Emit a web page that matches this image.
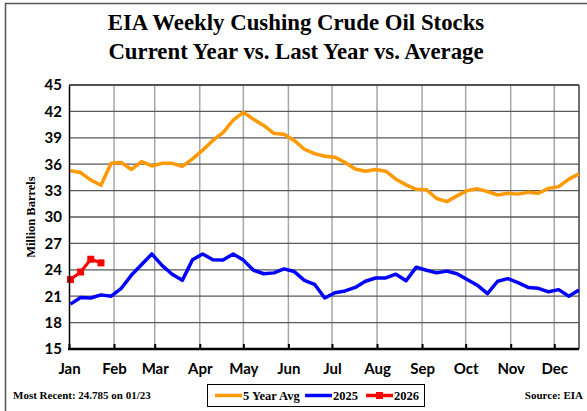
<!DOCTYPE html>
<html>
<head>
<meta charset="utf-8">
<script src="https://cdn.jsdelivr.net/npm/d3@7"></script>
<style>
  body { margin: 0; background: #fff; }
  #chart-area { width: 587px; height: 411px; }
</style>
</head>
<body>
<div id="chart-area"></div>
<script>
// values, one per week (Fridays)
const avg5yr = [
  35.25, 35.05, 34.2, 33.6, 36.1, 36.2, 35.4, 36.3, 35.8, 36.1,
  36.1, 35.75, 36.6, 37.6, 38.7, 39.6, 41.0, 41.9, 41.1, 40.4,
  39.5, 39.4, 38.7, 37.7, 37.2, 36.9, 36.8, 36.2, 35.45, 35.2,
  35.4, 35.2, 34.3, 33.65, 33.15, 33.1, 32.1, 31.75, 32.4, 33.0,
  33.2, 32.9, 32.5, 32.7, 32.6, 32.8, 32.7, 33.25, 33.45, 34.3,
  34.9
];
const stocks2025 = [
  20.1, 20.85, 20.8, 21.15, 21.0, 21.9, 23.4, 24.6, 25.8, 24.5,
  23.5, 22.8, 25.15, 25.8, 25.15, 25.1, 25.8, 25.1, 23.95, 23.55,
  23.65, 24.1, 23.8, 22.8, 22.35, 20.8, 21.4, 21.6, 22.0, 22.7,
  23.07, 23.07, 23.5, 22.75, 24.3, 23.95, 23.65, 23.85, 23.55, 22.9,
  22.25, 21.3, 22.7, 23.0, 22.55, 22.0, 21.9, 21.5, 21.75, 21.0,
  21.7
];
const stocks2026 = [22.9, 23.75, 25.2, 24.785];

const yTicks = [15, 18, 21, 24, 27, 30, 33, 36, 39, 42, 45];
const seriesNames = ["5 Year Avg", "2025", "2026"];
const seriesColors = ["#ff9900", "#0000ff", "#ff0000"];

const titleLines = [
  "EIA Weekly Cushing Crude Oil Stocks",
  "Current Year vs. Last Year vs. Average"
];

class StocksChart {
  constructor(parentElement) {
    this.parentElement = parentElement;
    this.initVis();
  }

  initVis() {
    let vis = this;

    vis.width = 587;
    vis.height = 411;
    vis.margin = { top: 85, right: 8, bottom: 62, left: 69 };

    vis.svg = d3
      .select("#" + vis.parentElement)
      .append("svg")
      .attr("width", vis.width)
      .attr("height", vis.height);

    // outer frame
    vis.svg
      .append("rect")
      .attr("x", 5.5)
      .attr("y", 3.5)
      .attr("width", vis.width + 10)
      .attr("height", vis.height + 10)
      .attr("fill", "none")
      .attr("stroke", "#555")
      .attr("stroke-width", 1.5);

    // weekly dates, all on the current year's calendar
    vis.weeks = d3.timeFriday.range(new Date(2026, 0, 1), new Date(2026, 11, 31));

    vis.x = d3
      .scaleTime()
      .domain([new Date(2026, 0, 1), new Date(2026, 11, 18)])
      .range([vis.margin.left, vis.width - vis.margin.right]);

    vis.y = d3
      .scaleLinear()
      .domain([15, 45])
      .range([vis.height - vis.margin.bottom, vis.margin.top]);

    vis.monthTicks = d3.timeMonth.range(new Date(2026, 0, 1), new Date(2026, 11, 18));

    // title
    vis.svg
      .append("g")
      .selectAll("text")
      .data(titleLines)
      .enter()
      .append("text")
      .attr("x", 296)
      .attr("y", (d, i) => 30 + i * 28.5)
      .attr("text-anchor", "middle")
      .style("font", "bold 22.8px 'Liberation Serif'")
      .style("fill", "#000")
      .text((d) => d);

    vis.drawGrid();
    vis.drawLines();
    vis.drawAxes();
    vis.drawLegend();
  }

  drawGrid() {
    let vis = this;
    let x0 = vis.margin.left;
    let x1 = vis.width - vis.margin.right;
    let y0 = vis.margin.top;
    let y1 = vis.height - vis.margin.bottom;

    // vertical month lines
    vis.svg
      .append("g")
      .attr("class", "grid-x")
      .selectAll("line")
      .data(vis.monthTicks.slice(1))
      .enter()
      .append("line")
      .attr("x1", (d) => vis.x(d))
      .attr("x2", (d) => vis.x(d))
      .attr("y1", y0)
      .attr("y2", y1)
      .attr("stroke", "#a6a6a6")
      .attr("stroke-width", 1.5);

    // horizontal lines
    vis.svg
      .append("g")
      .attr("class", "grid-y")
      .selectAll("line")
      .data(yTicks.slice(1))
      .enter()
      .append("line")
      .attr("x1", x0)
      .attr("x2", x1)
      .attr("y1", (d) => vis.y(d))
      .attr("y2", (d) => vis.y(d))
      .attr("stroke", "#595959")
      .attr("stroke-width", 1.3);

    // right border
    vis.svg
      .append("line")
      .attr("x1", x1)
      .attr("x2", x1)
      .attr("y1", y0)
      .attr("y2", y1)
      .attr("stroke", "#404040")
      .attr("stroke-width", 1.5);
  }

  drawLines() {
    let vis = this;

    let line = d3
      .line()
      .x((d, i) => vis.x(vis.weeks[i]))
      .y((d) => vis.y(d));

    let series = [avg5yr, stocks2025, stocks2026];

    vis.svg
      .append("g")
      .attr("class", "lines")
      .selectAll("path")
      .data(series)
      .enter()
      .append("path")
      .attr("d", line)
      .attr("fill", "none")
      .attr("stroke", (d, i) => seriesColors[i])
      .attr("stroke-width", (d, i) => (i == 2 ? 3 : 3.5))
      .attr("stroke-linejoin", "round");

    // square markers on current year
    vis.svg
      .append("g")
      .attr("class", "markers")
      .selectAll("rect")
      .data(stocks2026)
      .enter()
      .append("rect")
      .attr("x", (d, i) => vis.x(vis.weeks[i]) - 3.5)
      .attr("y", (d) => vis.y(d) - 3.5)
      .attr("width", 7)
      .attr("height", 7)
      .attr("fill", seriesColors[2]);
  }

  drawAxes() {
    let vis = this;
    let y1 = vis.height - vis.margin.bottom;

    // x axis
    let xAxis = d3
      .axisBottom(vis.x)
      .tickValues(vis.monthTicks)
      .tickFormat(d3.timeFormat("%b"))
      .tickSize(-5)
      .tickPadding(14);

    let gx = vis.svg
      .append("g")
      .attr("transform", `translate(0, ${y1})`)
      .call(xAxis);

    gx.select(".domain").remove();
    gx.selectAll(".tick line").attr("stroke", "#000").attr("stroke-width", 2);
    gx.selectAll(".tick text")
      .style("font", "bold 15px Lato")
      .style("fill", "#000");

    vis.svg
      .append("line")
      .attr("x1", vis.margin.left - 1)
      .attr("x2", vis.width - vis.margin.right)
      .attr("y1", y1)
      .attr("y2", y1)
      .attr("stroke", "#000")
      .attr("stroke-width", 2.5);

    // y axis
    let yAxis = d3
      .axisLeft(vis.y)
      .tickValues(yTicks)
      .tickSize(0)
      .tickPadding(7);

    let gy = vis.svg
      .append("g")
      .attr("transform", `translate(${vis.margin.left}, 0)`)
      .call(yAxis);

    gy.select(".domain").attr("stroke", "#000").attr("stroke-width", 1.5);
    gy.selectAll(".tick text")
      .style("font", "bold 15px Lato")
      .style("fill", "#000");

    // top border
    vis.svg
      .append("line")
      .attr("x1", vis.margin.left)
      .attr("x2", vis.width - vis.margin.right)
      .attr("y1", vis.margin.top)
      .attr("y2", vis.margin.top)
      .attr("stroke", "#404040")
      .attr("stroke-width", 1.5);

    vis.svg
      .append("text")
      .attr("transform", "translate(31, 217) rotate(-90)")
      .attr("text-anchor", "middle")
      .attr("dy", "0.35em")
      .style("font", "bold 12.5px 'Liberation Serif'")
      .text("Million Barrels");
  }

  drawLegend() {
    let vis = this;

    vis.svg
      .append("rect")
      .attr("x", 207.5)
      .attr("y", 384.5)
      .attr("width", 217)
      .attr("height", 22)
      .attr("fill", "#fff")
      .attr("stroke", "#000")
      .attr("stroke-width", 1);

    let itemX = [215, 305, 366];

    let items = vis.svg
      .append("g")
      .attr("class", "legend")
      .selectAll("g")
      .data(seriesNames)
      .enter()
      .append("g")
      .attr("transform", (d, i) => `translate(${itemX[i]}, 395.5)`);

    items
      .append("line")
      .attr("x1", 0)
      .attr("x2", 27)
      .attr("stroke", (d, i) => seriesColors[i])
      .attr("stroke-width", 3.5);

    items
      .filter((d, i) => i == 2)
      .append("rect")
      .attr("x", 10)
      .attr("y", -3.5)
      .attr("width", 7)
      .attr("height", 7)
      .attr("fill", seriesColors[2]);

    items
      .append("text")
      .attr("x", 28)
      .attr("dy", "0.35em")
      .style("font", "bold 12.5px 'Liberation Serif'")
      .text((d) => d);

    vis.svg
      .append("text")
      .attr("x", 13)
      .attr("y", 399)
      .style("font", "bold 11px 'Liberation Serif'")
      .text("Most Recent: " + stocks2026[stocks2026.length - 1] + " on 01/23");

    vis.svg
      .append("text")
      .attr("x", 583)
      .attr("y", 399)
      .attr("text-anchor", "end")
      .style("font", "bold 11px 'Liberation Serif'")
      .text("Source: EIA");
  }
}

new StocksChart("chart-area");
</script>
</body>
</html>
